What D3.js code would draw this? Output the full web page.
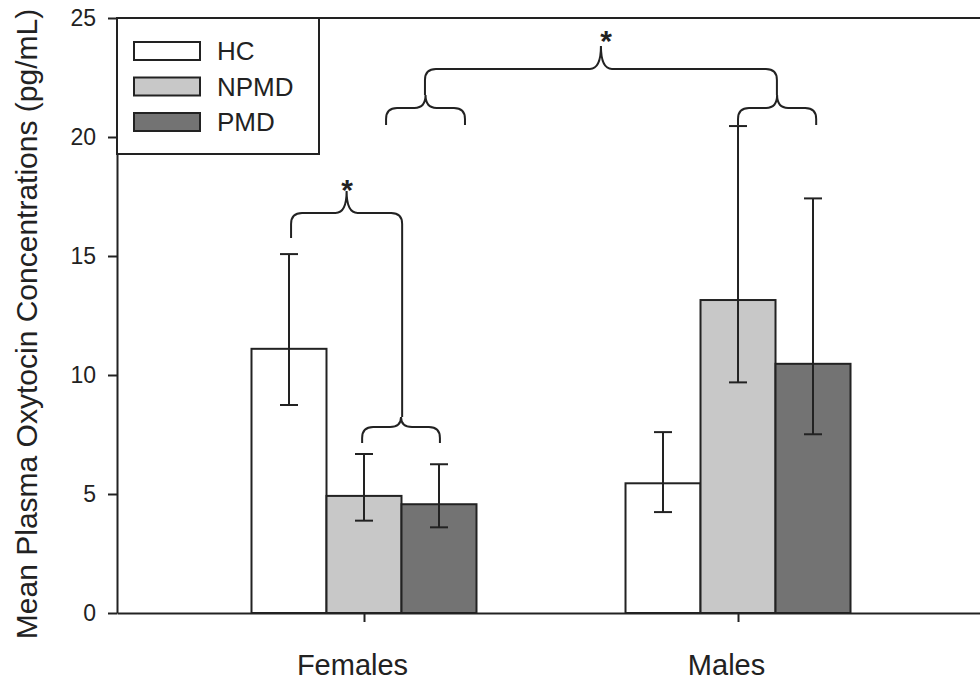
<!DOCTYPE html>
<html>
<head>
<meta charset="utf-8">
<script src="https://cdn.jsdelivr.net/npm/d3@7"></script>
<style>
  html, body { margin: 0; padding: 0; background: #fff; }
  svg { display: block; }
  text { font-family: "Liberation Sans", Arial, Helvetica, sans-serif; fill: #222; }
</style>
</head>
<body>
<svg id="chart" width="980" height="682"></svg>
<script>
// ---------- data ----------
const categories = ["Females", "Males"];
const series = ["HC", "NPMD", "PMD"];
const seriesColors = ["#ffffff", "#c8c8c8", "#737373"];
// means per series, [Females, Males]
const hcMean   = [11.1, 5.45];
const npmdMean = [4.92, 13.15];
const pmdMean  = [4.57, 10.47];
// asymmetric error bars: upper / lower limits
const hcUpper   = [15.08, 7.6];
const hcLower   = [8.74, 4.24];
const npmdUpper = [6.68, 20.46];
const npmdLower = [3.88, 9.69];
const pmdUpper  = [6.25, 17.42];
const pmdLower  = [3.6, 7.51];
const yTicks = [0, 5, 10, 15, 20, 25];
const yTitle = "Mean Plasma Oxytocin Concentrations (pg/mL)";
// significance braces (x in category units: Females = 1, Males = 2; y in pg/mL)
const braceX1   = [0.805, 0.995, 1.059, 2.0, 1.163];
const braceX2   = [1.102, 1.203, 1.27, 2.209, 2.104];
const braceYL   = [15.76, 7.14, 20.5, 20.5, 21.76];
const braceYR   = [8.24, 7.14, 20.5, 20.5, 21.76];
const braceMid  = [16.81, 7.82, 21.22, 21.22, 22.86];
const braceTip  = [17.73, 8.24, 21.76, 21.76, 23.82];
const starX = [0.955, 1.647];
const starY = [18.07, 24.33];

const means  = [hcMean, npmdMean, pmdMean];
const uppers = [hcUpper, npmdUpper, pmdUpper];
const lowers = [hcLower, npmdLower, pmdLower];

// ---------- layout ----------
const mLeft = 117, mTop = 18, mBottom = 613, mRight = 980;
const svg = d3.select("#chart");
const ink = "#222";

const y = d3.scaleLinear().domain([0, 25]).range([mBottom, mTop]);
const x = d3.scaleLinear().domain([0.3396, 2.647]).range([mLeft, mRight]);
const xSub = d3.scaleBand().domain(series).range([-112.5, 112.5]).paddingInner(0);

// ---------- bars ----------
const bars = [];
categories.forEach((c, ci) => {
  series.forEach((s, si) => {
    bars.push({ c, ci, s, si, v: means[si][ci], hi: uppers[si][ci], lo: lowers[si][ci] });
  });
});

const g = svg.append("g");
g.selectAll("rect.bar").data(bars).enter().append("rect")
  .attr("class", "bar")
  .attr("x", d => x(d.ci + 1) + xSub(d.s))
  .attr("y", d => y(d.v))
  .attr("width", xSub.bandwidth())
  .attr("height", d => y(0) - y(d.v))
  .attr("fill", d => seriesColors[d.si])
  .attr("stroke", ink)
  .attr("stroke-width", 2);

// error bars
const cap = 9;
const cx = d => x(d.ci + 1) + xSub(d.s) + xSub.bandwidth() / 2;
const eb = g.selectAll("g.eb").data(bars).enter().append("g").attr("class", "eb")
  .attr("stroke", ink).attr("stroke-width", 2);
eb.append("line")
  .attr("x1", cx).attr("x2", cx)
  .attr("y1", d => y(d.hi)).attr("y2", d => y(d.lo));
eb.append("line")
  .attr("x1", d => cx(d) - cap).attr("x2", d => cx(d) + cap)
  .attr("y1", d => y(d.hi)).attr("y2", d => y(d.hi));
eb.append("line")
  .attr("x1", d => cx(d) - cap).attr("x2", d => cx(d) + cap)
  .attr("y1", d => y(d.lo)).attr("y2", d => y(d.lo));

// ---------- axes ----------
const yAxis = d3.axisLeft(y).tickValues(yTicks).tickSize(9).tickSizeOuter(0).tickPadding(12);
const ya = svg.append("g").attr("transform", `translate(${mLeft},0)`).call(yAxis);
ya.select(".domain").attr("stroke", ink).attr("stroke-width", 2);
ya.selectAll(".tick line").attr("stroke", ink).attr("stroke-width", 2);
ya.selectAll(".tick text").style("font-size", "23px").attr("fill", "#222")
  .style("font-family", "'Liberation Sans', Arial, sans-serif");

const xAxis = d3.axisBottom(x).tickValues([1, 2]).tickFormat(d => categories[d - 1])
  .tickSize(9).tickSizeOuter(0).tickPadding(32);
const xa = svg.append("g").attr("transform", `translate(0,${mBottom})`).call(xAxis);
xa.select(".domain").attr("stroke", ink).attr("stroke-width", 2);
xa.selectAll(".tick line").attr("stroke", ink).attr("stroke-width", 2);
xa.selectAll(".tick text").style("font-size", "29px").attr("fill", "#222")
  .attr("dx", -12)
  .style("font-family", "'Liberation Sans', Arial, sans-serif");

// top frame line
svg.append("line").attr("x1", mLeft).attr("x2", mRight).attr("y1", y(25)).attr("y2", y(25))
  .attr("stroke", ink).attr("stroke-width", 2);

// y title
svg.append("text")
  .attr("transform", `translate(37,324) rotate(-90)`)
  .attr("text-anchor", "middle")
  .style("font-size", "30px")
  .text(yTitle);

// ---------- braces ----------
function bracePath(x1, x2, yl, yr, ym, yt, r) {
  const xc = (x1 + x2) / 2;
  return `M${x1},${yl} L${x1},${ym + r} Q${x1},${ym} ${x1 + r},${ym} L${xc - r},${ym} ` +
         `Q${xc},${ym} ${xc},${yt} Q${xc},${ym} ${xc + r},${ym} L${x2 - r},${ym} ` +
         `Q${x2},${ym} ${x2},${ym + r} L${x2},${yr}`;
}
braceX1.forEach((bx, i) => {
  svg.append("path")
    .attr("d", bracePath(x(bx), x(braceX2[i]), y(braceYL[i]), y(braceYR[i]),
                         y(braceMid[i]), y(braceTip[i]), 11))
    .attr("fill", "none").attr("stroke", ink).attr("stroke-width", 2);
});
starX.forEach((sx, i) => {
  const fs = 30;
  svg.append("text")
    .attr("x", x(sx)).attr("y", y(starY[i]) + 0.57 * fs)
    .attr("text-anchor", "middle")
    .style("font-size", fs + "px")
    .style("font-weight", "bold")
    .text("*");
});

// ---------- legend ----------
svg.append("rect").attr("x", mLeft).attr("y", mTop).attr("width", 202).attr("height", 136)
  .attr("fill", "#fff").attr("stroke", ink).attr("stroke-width", 2);
series.forEach((s, i) => {
  const yy = 42 + i * 35.5;
  svg.append("rect").attr("x", 134).attr("y", yy).attr("width", 66).attr("height", 18)
    .attr("fill", seriesColors[i]).attr("stroke", ink).attr("stroke-width", 2);
  svg.append("text").attr("x", 217).attr("y", yy + 9).attr("dy", "0.36em")
    .style("font-size", "26px").text(s);
});
</script>
</body>
</html>
